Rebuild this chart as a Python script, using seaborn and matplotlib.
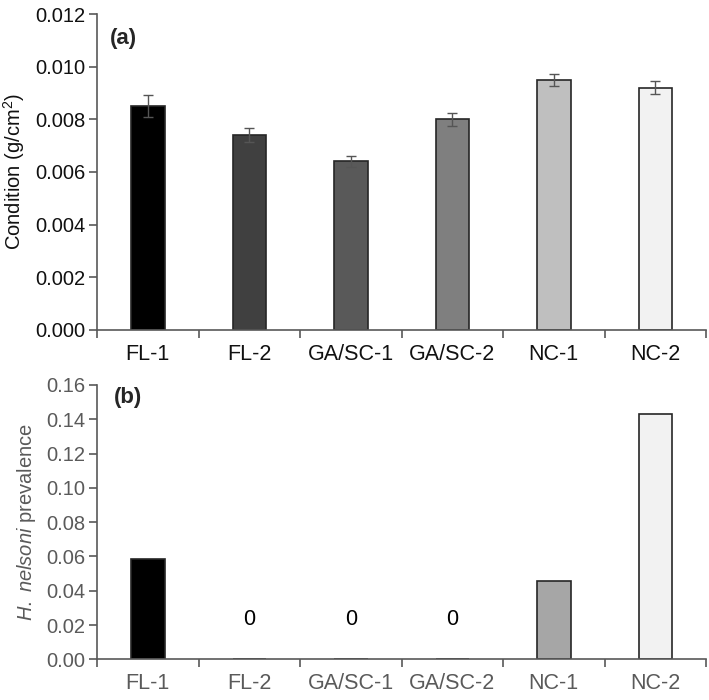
import numpy as np
import pandas as pd
import matplotlib
matplotlib.use("Agg")
import matplotlib.pyplot as plt
import seaborn as sns

# Site labels shared by both panels
sites = ["FL-1", "FL-2", "GA/SC-1", "GA/SC-2", "NC-1", "NC-2"]

# Panel (a): condition index, mean and error
condition = [0.0085, 0.0074, 0.0064, 0.0080, 0.0095, 0.0092]
condition_err = [0.00042, 0.00026, 0.00020, 0.00025, 0.00024, 0.00025]
colors_a = ["#000000", "#404040", "#595959", "#7f7f7f", "#bfbfbf", "#f2f2f2"]

# Panel (b): H. nelsoni prevalence
prevalence = [0.0588, 0.0, 0.0, 0.0, 0.0455, 0.1429]
colors_b = ["#000000", "#404040", "#595959", "#7f7f7f", "#a6a6a6", "#f2f2f2"]

sns.set_theme(style="white")
plt.rcParams["font.family"] = ["Liberation Sans", "DejaVu Sans"]
plt.rcParams["mathtext.fontset"] = "custom"
plt.rcParams["mathtext.rm"] = "Liberation Sans"
plt.rcParams["mathtext.it"] = "Liberation Sans:italic"

AXIS_GRAY = "#595959"
EDGE = "#262626"

fig = plt.figure(figsize=(7.09, 7.0), dpi=100)
ax_a = fig.add_axes([0.137, 0.5286, 0.8588, 0.4514])
ax_b = fig.add_axes([0.137, 0.0581, 0.8588, 0.3919])

df_a = pd.DataFrame({"site": sites, "value": condition})
df_b = pd.DataFrame({"site": sites, "value": prevalence})

sns.barplot(data=df_a, x="site", y="value", hue="site", palette=colors_a,
            legend=False, width=0.33, edgecolor=EDGE, linewidth=1.2, ax=ax_a)
ax_a.errorbar(np.arange(len(sites)), condition, yerr=condition_err, fmt="none",
              ecolor="#555555", elinewidth=1.0, capsize=3.5, capthick=1.0)

sns.barplot(data=df_b, x="site", y="value", hue="site", palette=colors_b,
            legend=False, width=0.33, edgecolor=EDGE, linewidth=1.2, ax=ax_b)
for i, v in enumerate(prevalence):
    if v == 0:
        ax_b.text(i, 0.023, "0", ha="center", va="center", fontsize=15.5, color="black")


def style_axis(ax, ylim, yticks, fmt, tick_color):
    ax.set_xlim(-0.5, len(sites) - 0.5)
    ax.set_ylim(*ylim)
    ax.set_yticks(yticks)
    ax.set_yticklabels([fmt.format(t) for t in yticks])
    ax.set_xticks(np.arange(len(sites)))
    ax.set_xticklabels(sites)
    ax.set_xticks(np.arange(-0.5, len(sites)), minor=True)
    ax.tick_params(axis="x", which="major", length=0, pad=10, labelsize=15.5,
                   labelcolor=tick_color)
    ax.tick_params(axis="x", which="minor", length=6, width=1.2, color=AXIS_GRAY,
                   direction="out", bottom=True)
    ax.tick_params(axis="y", length=5.5, width=1.2, color=AXIS_GRAY, direction="out",
                   left=True, labelsize=14.5, labelcolor=tick_color, pad=3)
    for side in ["top", "right"]:
        ax.spines[side].set_visible(False)
    for side in ["left", "bottom"]:
        ax.spines[side].set_color(AXIS_GRAY)
        ax.spines[side].set_linewidth(1.2)
    ax.set_xlabel("")


style_axis(ax_a, (0, 0.012), np.arange(0, 0.0121, 0.002), "{:.3f}", "#111111")
style_axis(ax_b, (0, 0.16), np.arange(0, 0.161, 0.02), "{:.2f}", "#5a5a5a")

ax_a.set_ylabel("Condition (g/cm$^2$)", fontsize=14.5, color="#111111", labelpad=6)
ax_b.set_ylabel(r"$\it{H.\ nelsoni}$ prevalence", fontsize=14.5, color="#5a5a5a", labelpad=6)

ax_a.text(0.021, 0.924, "(a)", transform=ax_a.transAxes, fontsize=16,
          fontweight="bold", ha="left", va="center")
ax_b.text(0.028, 0.956, "(b)", transform=ax_b.transAxes, fontsize=16,
          fontweight="bold", ha="left", va="center")

fig.savefig("out.png", dpi=100, facecolor="white")
